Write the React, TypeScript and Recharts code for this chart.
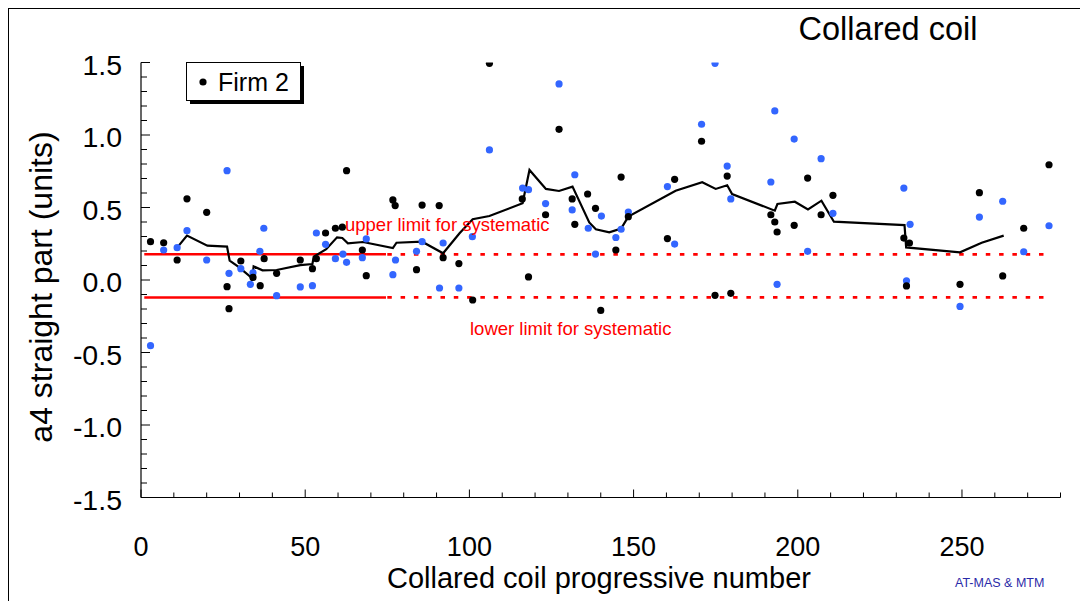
import React from 'react';
import { ComposedChart, Scatter, Line, XAxis, YAxis, ReferenceLine, Legend } from 'recharts';

// Firm 2 (black points)
const firm2Coil = [2.9, 6.9, 11, 14, 20, 26.2, 26.8, 30.4, 34.1, 36.3, 37.5, 41.3, 48.5, 52.2, 53.4, 56.2, 59.2, 61.3, 62.6, 67.4, 68.6, 76.7, 77.4, 83.9, 85.6, 90.8, 92, 96.8, 101, 106.1, 116.1, 118, 123.2, 127.3, 131.3, 132.1, 136, 138.4, 140, 144.6, 146.2, 148.4, 160.3, 162.5, 170.7, 174.8, 178.5, 179.6, 191.8, 193, 193.7, 198.9, 203, 207.1, 210.7, 232.3, 233.1, 234, 249.4, 255.3, 262.4, 268.8, 276.5];
const firm2A4 = [0.264, 0.257, 0.138, 0.56, 0.467, -0.046, -0.198, 0.131, 0.018, -0.039, 0.147, 0.046, 0.138, 0.078, 0.147, 0.324, 0.357, 0.364, 0.754, 0.207, 0.03, 0.552, 0.513, 0.071, 0.517, 0.513, 0.154, 0.113, -0.138, 1.494, 0.559, 0.021, 0.45, 1.039, 0.559, 0.384, 0.593, 0.494, -0.21, 0.207, 0.71, 0.437, 0.286, 0.694, 0.957, -0.106, 0.717, -0.092, 0.45, 0.4, 0.331, 0.377, 0.703, 0.45, 0.584, 0.289, -0.041, 0.255, -0.03, 0.602, 0.028, 0.357, 0.795];

// second measurement (blue points)
const blueCoil = [2.9, 6.9, 11, 14, 20, 26.2, 26.8, 30.4, 33.3, 34.1, 36.2, 37.4, 41.3, 48.5, 52.2, 53.4, 56.2, 59.2, 61.5, 62.6, 67.4, 68.6, 76.7, 77.5, 83.9, 85.6, 90.9, 92, 96.8, 100.9, 106.1, 116.2, 118, 123.2, 127.3, 131.3, 132.1, 136.2, 138.4, 140.2, 144.6, 146.2, 148.4, 160.3, 162.5, 170.7, 174.8, 178.5, 179.6, 191.8, 193, 193.7, 198.9, 203, 207.1, 210.7, 232.3, 233.1, 234.2, 249.4, 255.3, 262.4, 268.8, 276.5];
const blueA4 = [-0.453, 0.207, 0.223, 0.34, 0.138, 0.754, 0.046, 0.078, -0.03, 0.05, 0.198, 0.357, -0.108, -0.048, -0.039, 0.324, 0.246, 0.147, 0.179, 0.122, 0.154, 0.283, 0.037, 0.138, 0.198, 0.264, -0.055, 0.255, -0.055, 0.299, 0.897, 0.634, 0.623, 0.527, 1.352, 0.483, 0.726, 0.357, 0.179, 0.441, 0.293, 0.35, 0.469, 0.644, 0.248, 1.074, 1.494, 0.786, 0.559, 0.676, 1.166, -0.03, 0.972, 0.198, 0.837, 0.46, 0.634, -0.005, 0.384, -0.182, 0.434, 0.543, 0.195, 0.374];

// running average (black line)
const avgCoil = [11, 14, 20.2, 26.2, 27, 29.6, 33.9, 34.3, 37, 41.3, 48.5, 52.2, 52.6, 56.4, 59.7, 61.3, 63, 67.6, 76.7, 77.8, 85.6, 92, 97, 101, 106.1, 116.2, 118.3, 123.3, 127.3, 131.4, 136.5, 138.5, 142.6, 146.2, 148.4, 162.8, 170.9, 175, 178.5, 180, 193, 193.8, 199.1, 203.1, 207.2, 211, 232.5, 233, 249.4, 256, 262.7];
const avgA4 = [0.223, 0.306, 0.237, 0.23, 0.133, 0.092, 0.012, 0.094, 0.067, 0.069, 0.103, 0.11, 0.161, 0.212, 0.294, 0.29, 0.253, 0.262, 0.22, 0.257, 0.264, 0.184, 0.322, 0.419, 0.441, 0.529, 0.759, 0.628, 0.614, 0.644, 0.397, 0.35, 0.329, 0.354, 0.437, 0.616, 0.674, 0.628, 0.653, 0.593, 0.478, 0.524, 0.54, 0.487, 0.547, 0.402, 0.379, 0.225, 0.191, 0.257, 0.306];

// systematic limits
const upperLimit = 0.177;
const lowerLimit = -0.12;
const solidRange = [1, 74.6];
const dashedRange = [75, 277];

const xTicks = [0, 10, 20, 30, 40, 50, 60, 70, 80, 90, 100, 110, 120, 130, 140, 150, 160, 170, 180, 190, 200, 210, 220, 230, 240, 250, 260, 270, 280];
const xMajor = [0, 50, 100, 150, 200, 250];
const yTicks = [-1.5, -1.4, -1.3, -1.2, -1.1, -1.0, -0.9, -0.8, -0.7, -0.6, -0.5, -0.4, -0.3, -0.2, -0.1, 0, 0.1, 0.2, 0.3, 0.4, 0.5, 0.6, 0.7, 0.8, 0.9, 1.0, 1.1, 1.2, 1.3, 1.4, 1.5];
const yMajor = [-1.5, -1.0, -0.5, 0, 0.5, 1.0, 1.5];

const firm2Data = firm2Coil.map((x, i) => ({ x, y: firm2A4[i] }));
const blueData = blueCoil.map((x, i) => ({ x, y: blueA4[i] }));
const avgData = avgCoil.map((x, i) => ({ x, y: avgA4[i] }));

const FONT = '"Liberation Sans", Arial, sans-serif';
const W = 1079;
const H = 592;

const XTick = (props: any) => {
  const { x, y, payload } = props;
  const v = payload.value;
  const major = xMajor.includes(v);
  return (
    <g>
      <line x1={x} y1={y} x2={x} y2={y - (major ? 8 : 5)} stroke="#000" strokeWidth={1} />
      {major && (
        <text x={x} y={y + 58} textAnchor="middle" fontSize={27} fontFamily={FONT} fill="#000">
          {v}
        </text>
      )}
    </g>
  );
};

const YTick = (props: any) => {
  const { x, y, payload } = props;
  const v = payload.value;
  const major = yMajor.some((m) => Math.abs(m - v) < 1e-6);
  return (
    <g>
      <line x1={x} y1={y} x2={x + (major ? 9 : 6)} y2={y} stroke="#000" strokeWidth={1} />
      {major && (
        <text x={x - 19} y={y + 12} textAnchor="end" fontSize={28.5} fontFamily={FONT} fill="#000">
          {v.toFixed(1)}
        </text>
      )}
    </g>
  );
};

const dot = (color: string) => (p: any) => <circle cx={p.cx} cy={p.cy} r={3.6} fill={color} />;

const LegendBox = () => (
  <svg width={124} height={44} style={{ display: 'block' }}>
    <rect x={4} y={4} width={114} height={38} fill="#000" />
    <rect x={0.5} y={0.5} width={114} height={38} fill="#fff" stroke="#000" strokeWidth={1} />
    <circle cx={17} cy={20} r={3.6} fill="#000" />
    <text x={32} y={29} fontSize={25} fontFamily={FONT} fill="#000">Firm 2</text>
  </svg>
);

export default function App() {
  return (
    <div style={{ position: 'relative', width: W, height: H, borderLeft: '1px solid #000', borderTop: '1px solid #000', background: '#fff' }}>
      <ComposedChart width={W} height={H} margin={{ top: 53.5, right: 27.5, bottom: 73.5, left: 72 }}>
        <XAxis
          type="number"
          dataKey="x"
          domain={[0, 280]}
          ticks={xTicks}
          interval={0}
          height={30}
          tickSize={0}
          tickMargin={0}
          tickLine={false}
          tick={<XTick />}
          axisLine={{ stroke: '#000', strokeWidth: 1.2 }}
          allowDataOverflow
        />
        <YAxis
          type="number"
          dataKey="y"
          domain={[-1.5, 1.5]}
          ticks={yTicks}
          interval={0}
          width={60}
          tickSize={0}
          tickMargin={0}
          tickLine={false}
          tick={<YTick />}
          axisLine={{ stroke: '#000', strokeWidth: 1.2 }}
          allowDataOverflow
        />
        <Legend
          layout="horizontal"
          verticalAlign="middle"
          align="center"
          content={() => <LegendBox />}
          wrapperStyle={{ position: 'absolute', left: 177, top: 53, width: 124, height: 44 }}
        />
        <ReferenceLine segment={[{ x: solidRange[0], y: upperLimit }, { x: solidRange[1], y: upperLimit }]} stroke="#ff0000" strokeWidth={2.5} />
        <ReferenceLine segment={[{ x: solidRange[0], y: lowerLimit }, { x: solidRange[1], y: lowerLimit }]} stroke="#ff0000" strokeWidth={2.5} />
        <ReferenceLine segment={[{ x: dashedRange[0], y: upperLimit }, { x: dashedRange[1], y: upperLimit }]} stroke="#ff0000" strokeWidth={2.8} strokeDasharray="4.5 8.8" />
        <ReferenceLine segment={[{ x: dashedRange[0], y: lowerLimit }, { x: dashedRange[1], y: lowerLimit }]} stroke="#ff0000" strokeWidth={2.8} strokeDasharray="4.5 8.8" />
        <Line data={avgData} dataKey="y" type="linear" stroke="#000" strokeWidth={2.2} dot={false} isAnimationActive={false} legendType="none" />
        <Scatter data={blueData} dataKey="y" fill="#3366ff" shape={dot('#3366ff')} isAnimationActive={false} legendType="none" />
        <Scatter name="Firm 2" data={firm2Data} dataKey="y" fill="#000" shape={dot('#000')} isAnimationActive={false} />
      </ComposedChart>
      <svg width={W} height={H} style={{ position: 'absolute', left: 0, top: 0, pointerEvents: 'none' }}>
        <text x={879} y={31} textAnchor="middle" fontSize={32.5} fontFamily={FONT} fill="#000">Collared coil</text>
        <text x={590} y={579} textAnchor="middle" fontSize={29} fontFamily={FONT} fill="#000">Collared coil progressive number</text>
        <text transform="translate(43,278) rotate(-90)" textAnchor="middle" fontSize={32} fontFamily={FONT} fill="#000">a4 straight part (units)</text>
        <text x={336} y={222} fontSize={18.5} fontFamily={FONT} fill="#ff0000">upper limit for systematic</text>
        <text x={461} y={326} fontSize={18.5} fontFamily={FONT} fill="#ff0000">lower limit for systematic</text>
        <text x={946} y={578} fontSize={12.5} fontFamily={FONT} fill="#2a2aa8">AT-MAS &amp; MTM</text>
      </svg>
    </div>
  );
}
